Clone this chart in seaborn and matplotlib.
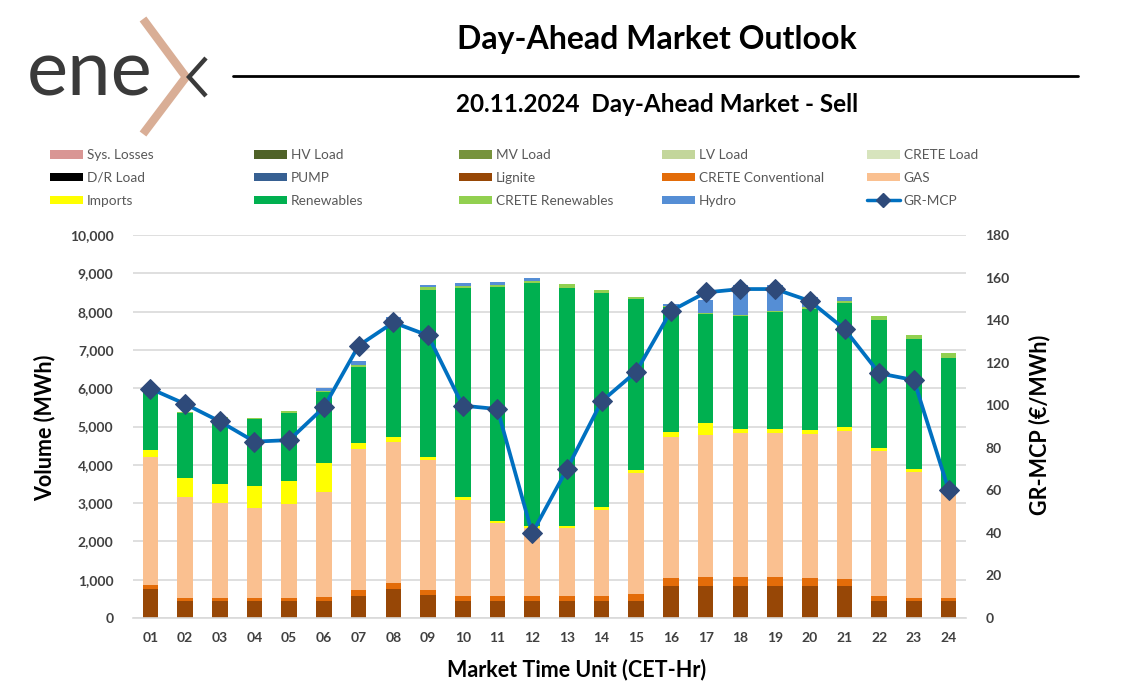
import numpy as np
import pandas as pd
import matplotlib
matplotlib.use("Agg")
import matplotlib.pyplot as plt
import seaborn as sns
from matplotlib.patches import Patch
from matplotlib.lines import Line2D
from matplotlib.ticker import FuncFormatter, MultipleLocator

# ---------------- data ----------------
hours = [f"{i:02d}" for i in range(1, 25)]

lignite = [749, 444, 444, 444, 444, 444, 583, 749, 600, 444, 444, 444,
           444, 444, 444, 844, 844, 844, 844, 844, 844, 444, 444, 444]
crete_conv = [104, 86, 86, 86, 86, 104, 140, 156, 131, 122, 122, 122,
              122, 130, 174, 192, 235, 235, 235, 209, 174, 130, 78, 78]
gas = [3359, 2621, 2464, 2351, 2438, 2742, 3689, 3690, 3394, 2515, 1906, 1776,
       1776, 2246, 3159, 3682, 3707, 3742, 3742, 3751, 3856, 3794, 3281, 2733]
imports = [174, 504, 505, 566, 609, 766, 148, 123, 87, 78, 61, 69,
           69, 87, 87, 147, 314, 113, 113, 105, 104, 79, 87, 44]
renewables = [1574, 1689, 1705, 1740, 1784, 1854, 2002, 2976, 4352, 5449, 6101, 6327,
              6197, 5570, 4457, 3247, 2837, 2951, 3056, 3159, 3238, 3334, 3403, 3498]
crete_ren = [27, 43, 36, 43, 44, 20, 44, 40, 70, 60, 61, 70,
             104, 79, 69, 30, 35, 35, 34, 44, 61, 95, 105, 113]
hydro = [0, 0, 0, 0, 0, 67, 104, 133, 52, 79, 78, 78,
         0, 0, 0, 56, 331, 775, 671, 278, 113, 0, 0, 0]
gr_mcp = [107.8, 100.6, 92.4, 82.9, 83.6, 99.0, 128.0, 138.9, 132.8, 99.8, 98.2, 39.8,
          69.9, 101.8, 115.8, 144.3, 153.0, 154.6, 154.6, 149.0, 135.8, 115.0, 111.8, 60.2]

legend_labels = ["Sys. Losses", "HV Load", "MV Load", "LV Load", "CRETE Load",
                 "D/R Load", "PUMP", "Lignite", "CRETE Conventional", "GAS",
                 "Imports", "Renewables", "CRETE Renewables", "Hydro", "GR-MCP"]
legend_colors = ["#D99694", "#4F6228", "#77933C", "#C3D69B", "#D7E4BD",
                 "#000000", "#376092", "#974706", "#E36C09", "#FAC090",
                 "#FFFF00", "#00B050", "#92D050", "#558ED5", "#0070C0"]

df = pd.DataFrame({
    "hour": hours, "Lignite": lignite, "CRETE Conventional": crete_conv,
    "GAS": gas, "Imports": imports, "Renewables": renewables,
    "CRETE Renewables": crete_ren, "Hydro": hydro, "GR-MCP": gr_mcp,
})
stack = ["Lignite", "CRETE Conventional", "GAS", "Imports", "Renewables",
         "CRETE Renewables", "Hydro"]
color_of = dict(zip(legend_labels, legend_colors))

# ---------------- figure ----------------
sns.set_theme(style="white")
plt.rcParams["font.family"] = ["Lato", "DejaVu Sans"]

W, H = 1132, 697
fig = plt.figure(figsize=(W / 100, H / 100), dpi=100)
fig.patch.set_facecolor("white")

def fx(px):
    return px / W

def fy(py):
    return 1 - py / H

ax = fig.add_axes([fx(133), fy(618), fx(966) - fx(133), fy(235) - fy(618)])

bottom = np.zeros(len(hours))
for name in stack:
    sns.barplot(data=df, x="hour", y=name, order=hours, color=color_of[name],
                saturation=1, width=0.45, linewidth=0, errorbar=None,
                bottom=bottom.copy(), ax=ax, zorder=2)
    bottom += df[name].to_numpy()

ax.set_ylim(0, 10000)
ax.set_xlim(-0.5, 23.5)
ax.yaxis.set_major_locator(MultipleLocator(1000))
ax.yaxis.set_major_formatter(FuncFormatter(lambda v, p: f"{v:,.0f}"))
ax.yaxis.grid(True, color="#D9D9D9", linewidth=1.2, zorder=0)
ax.set_axisbelow(True)
for s in ["top", "right", "left"]:
    ax.spines[s].set_visible(False)
ax.spines["bottom"].set_color("#D9D9D9")
ax.spines["bottom"].set_linewidth(1.2)
ax.tick_params(axis="both", length=0, colors="#404040", labelsize=10)
ax.tick_params(axis="y", pad=14)
ax.tick_params(axis="x", pad=10)
for lab in ax.get_xticklabels() + ax.get_yticklabels():
    lab.set_fontweight("bold")
ax.set_xlabel("")
ax.set_ylabel("")

ax2 = ax.twinx()
sns.lineplot(data=df, x="hour", y="GR-MCP", ax=ax2, color="#0070C0",
             linewidth=2.7, marker="D", markersize=10,
             markerfacecolor="#2E4A7A", markeredgecolor="#2E4A7A", sort=False,
             zorder=5)
ax2.set_ylim(0, 180)
ax2.set_xlim(-0.5, 23.5)
ax2.yaxis.set_major_locator(MultipleLocator(20))
for s in ["top", "right", "left", "bottom"]:
    ax2.spines[s].set_visible(False)
ax2.tick_params(axis="y", length=0, colors="#404040", labelsize=10, pad=14)
for lab in ax2.get_yticklabels():
    lab.set_fontweight("bold")
ax2.set_ylabel("")
ax2.set_xlabel("")
ax2.grid(False)

# axis titles
fig.text(fx(45), fy(428), "Volume (MWh)", rotation=90, ha="center", va="center",
         fontsize=15.5, fontweight="bold", color="black")
fig.text(fx(1040), fy(425), "GR-MCP (€/MWh)", rotation=90, ha="center", va="center",
         fontsize=15.5, fontweight="bold", color="black")
fig.text(fx(577), fy(670), "Market Time Unit (CET-Hr)", ha="center", va="center",
         fontsize=15.5, fontweight="bold", color="black")

# titles
fig.text(fx(657), fy(40), "Day-Ahead Market Outlook", ha="center", va="center",
         fontsize=23, fontweight="bold", color="black")
fig.add_artist(Line2D([fx(233), fx(1078)], [fy(76), fy(76)], color="black", linewidth=2))
fig.text(fx(657), fy(104), "20.11.2024  Day-Ahead Market - Sell", ha="center", va="center",
         fontsize=17.5, fontweight="bold", color="black")

# logo
fig.text(fx(27), fy(96), "ene", ha="left", va="baseline", fontsize=56,
         fontweight="normal", color="#3A3A3A")
fig.add_artist(Line2D([fx(143), fx(186), fx(143)], [fy(19), fy(77), fy(134)],
                      color="#D9AE96", linewidth=6, solid_joinstyle="miter",
                      solid_capstyle="butt"))
fig.add_artist(Line2D([fx(206), fx(189), fx(206)], [fy(58), fy(77), fy(96)],
                      color="#3A3A3A", linewidth=3.2, solid_joinstyle="miter",
                      solid_capstyle="butt"))

# legend: 5 columns x 3 rows
col_x = [50, 254, 459, 662, 867]
for c in range(5):
    handles, labels = [], []
    for r in range(3):
        lab = legend_labels[r * 5 + c]
        if lab == "GR-MCP":
            handles.append(Line2D([0], [0], color="#0070C0", linewidth=2.5, marker="D",
                                  markersize=7, markerfacecolor="#2E4A7A",
                                  markeredgecolor="#2E4A7A"))
        else:
            handles.append(Patch(facecolor=color_of[lab], edgecolor="none"))
        labels.append(lab)
    fig.legend(handles, labels, loc="upper left", bbox_to_anchor=(fx(col_x[c]), fy(149)),
               frameon=False, ncol=1, fontsize=9.8, handlelength=2.4, handleheight=0.6,
               handletextpad=0.3, labelspacing=0.8, borderpad=0, borderaxespad=0,
               labelcolor="#595959")

fig.savefig("out.png", dpi=100, facecolor="white")
